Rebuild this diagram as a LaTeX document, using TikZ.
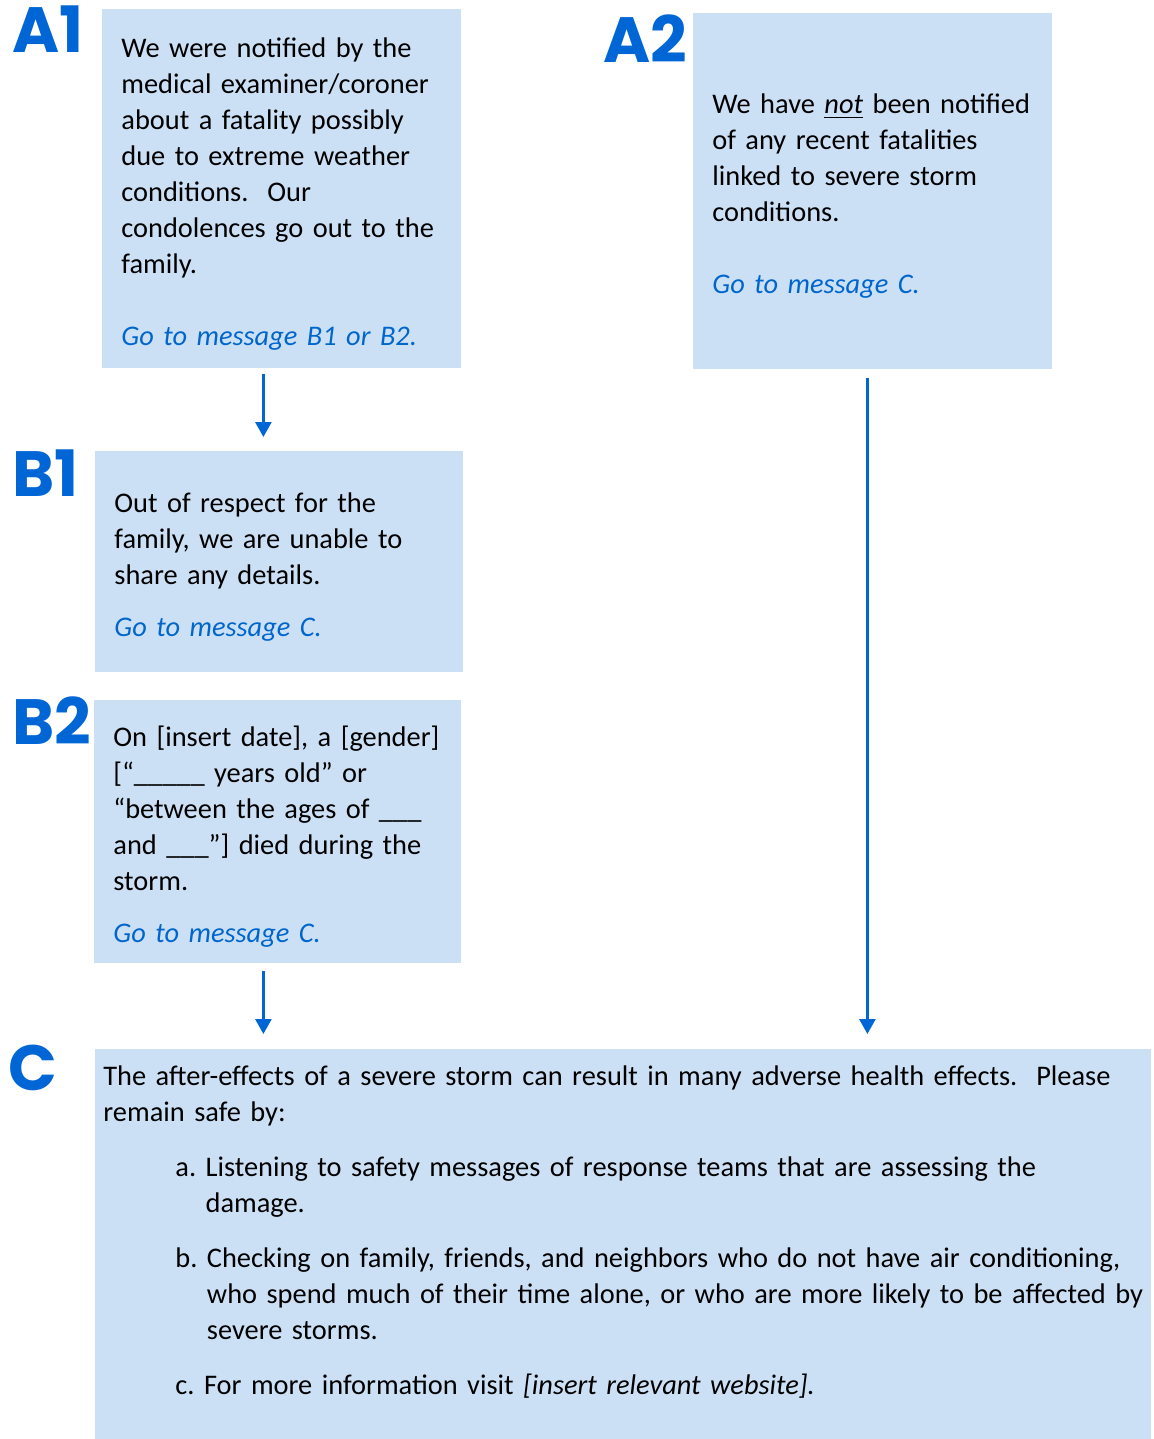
\documentclass[tikz,border=0pt]{standalone}
\usepackage{fontspec}
\setmainfont{Carlito}
\newfontfamily\tagfont{Poppins}
\usetikzlibrary{arrows.meta}
\definecolor{boxblue}{RGB}{204,224,245}
\definecolor{tagblue}{RGB}{0,102,214}
\definecolor{linkblue}{RGB}{0,102,204}
\newcommand{\golink}[1]{{\color{linkblue}\itshape #1}}
\newcommand{\stepitem}[1]{\par\setbox0\hbox{#1\ }\hangindent=\wd0 \hangafter=1 \noindent\box0}
\newcommand{\msgfont}[1]{\fontsize{#1}{18}\selectfont\hyphenpenalty=10000\relax}

\begin{document}
\begin{tikzpicture}[x=0.5pt,y=-0.5pt,
  msg/.style={fill=boxblue, anchor=north west, align=left, inner xsep=9.5pt, inner ysep=0pt,
    font=\msgfont{14.2}, execute at begin node={\rule{0pt}{15pt}}},
  tag/.style={anchor=base west, inner sep=0pt, text=tagblue,
    font=\tagfont\bfseries\fontsize{32}{32}\selectfont},
  flow/.style={draw=tagblue, line width=1.3pt, -{Triangle[width=8pt,length=7.5pt]}}]
  \useasboundingbox (0,0) rectangle (1153,1439);
  \node[msg, minimum width=179.5pt, minimum height=179.5pt, text width=160.5pt] (a1) at (102,9)
    {We were notified by the\\ medical examiner/coroner\\ about a fatality possibly\\
     due to extreme weather\\ conditions.\ \ Our\\ condolences go out to the\\ family.\\[18pt]
     \golink{Go to message B1 or B2.}};
  \node[msg, minimum width=179.5pt, minimum height=178pt, text width=160.5pt] (a2) at (693,13)
    {We have \underline{\textit{not}} been notified\\ of any recent fatalities\\ linked to severe storm\\
     conditions.\\[18pt] \golink{Go to message C.}};
  \node[msg, minimum width=184pt, minimum height=110.5pt, text width=165pt] (b1) at (95,451)
    {Out of respect for the\\ family, we are unable to\\ share any details.\\[8pt]
     \golink{Go to message C.}};
  \node[msg, minimum width=183.5pt, minimum height=131.5pt, text width=164.5pt] (b2) at (94,700)
    {On [insert date], a [gender]\\{}[“\_\_\_\_\_ years old” or\\ “between the ages of \_\_\_\\
     and \_\_\_”] died during the\\ storm.\\[8pt] \golink{Go to message C.}};
  \node[msg, inner xsep=4pt, minimum width=528pt, minimum height=195pt, text width=520pt] (c) at (95,1049)
    {The after-effects of a severe storm can result in many adverse health effects.\ \ Please\newline
     remain safe by:\par
     \setlength{\parskip}{9.5pt}\leftskip=36pt
     \stepitem{a.}Listening to safety messages of response teams that are assessing the\newline damage.
     \stepitem{b.}Checking on family, friends, and neighbors who do not have air conditioning,\newline
       who spend much of their time alone, or who are more likely to be affected by\newline severe storms.
     \stepitem{c.}For more information visit \textit{[insert relevant website].}\rule[-19pt]{0pt}{1pt}\par};
  \node[tag] (ta1) at (12,53) {A1};
  \node[tag] (ta2) at (603,63) {A2};
  \node[tag] (tb1) at (12,496) {B1};
  \node[tag] (tb2) at (12,744) {B2};
  \node[tag] (tc) at (8,1090) {C};
  \draw[flow, shorten <=2.5pt, shorten >=7pt] ([xshift=-9.25pt]a1.south) -- ([xshift=-8pt]b1.north);
  \draw[flow, shorten <=3.5pt, shorten >=7.5pt] ([xshift=-7.25pt]b2.south) -- ([xshift=-7.25pt]b2.south |- c.north);
  \draw[flow, shorten <=4pt, shorten >=7.5pt] ([xshift=-2.75pt]a2.south) -- ([xshift=-2.75pt]a2.south |- c.north);
\end{tikzpicture}
\end{document}
